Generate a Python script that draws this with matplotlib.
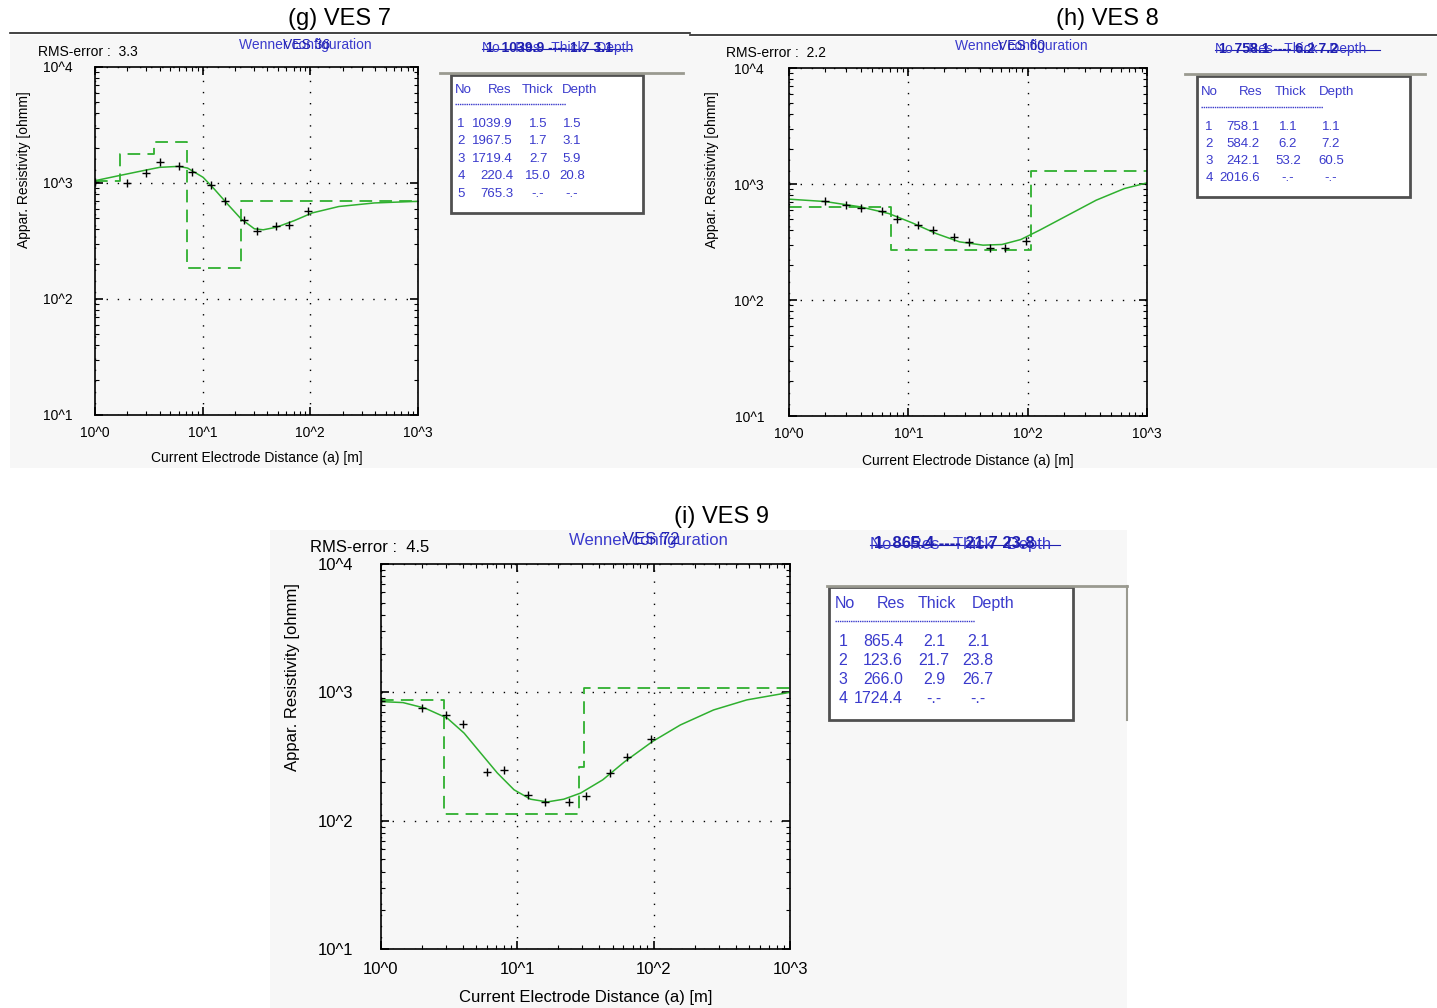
import matplotlib
matplotlib.use("Agg")
import matplotlib.pyplot as plt
from matplotlib.lines import Line2D
from matplotlib.patches import Rectangle

plt.rcParams['font.family'] = ['Liberation Sans', 'DejaVu Sans']

W, H = 1437, 1008

# ---- VES 7 (g) ----
g_a = [1, 2, 3, 4, 6, 8, 12, 16, 24, 32, 48, 64, 96]
g_rho = [1014, 993, 1218, 1506, 1411, 1250, 961, 705, 484, 389, 424, 438, 578]
g_fit_a = [1.0, 1.66, 2.79, 3.97, 5.98, 7.24, 10.1, 12.8, 17.0, 22.7, 30.2, 36.5, 48.5, 71.0, 104, 184, 394, 1000]
g_fit_rho = [1047, 1156, 1277, 1364, 1391, 1345, 1119, 888, 659, 491, 403, 395, 416, 474, 552, 627, 673, 695]
g_step_a = [1, 1.69, 3.55, 7.1, 22.7, 1000]
g_step_rho = [1032, 1775, 2264, 186, 705, 705]
g_rms = "3.3"
g_table = [["1", "1039.9", "1.5", "1.5"],
           ["2", "1967.5", "1.7", "3.1"],
           ["3", "1719.4", "2.7", "5.9"],
           ["4", "220.4", "15.0", "20.8"],
           ["5", "765.3", "-.-", "-.-"]]

# ---- VES 8 (h) ----
h_a = [2, 3, 4, 6, 8, 12, 16, 24, 32, 48, 64, 96]
h_rho = [711, 656, 627, 583, 504, 447, 405, 350, 317, 282, 283, 321]
h_fit_a = [1, 2.01, 3.98, 6.87, 10.8, 17.1, 26.9, 42.3, 60.9, 87.5, 126, 217, 375, 647, 1000]
h_fit_rho = [740, 706, 635, 556, 462, 374, 317, 297, 301, 332, 400, 538, 725, 914, 1023]
h_step_a = [1, 7.19, 107, 1000]
h_step_rho = [635, 269, 1306, 1306]
h_rms = "2.2"
h_table = [["1", "758.1", "1.1", "1.1"],
           ["2", "584.2", "6.2", "7.2"],
           ["3", "242.1", "53.2", "60.5"],
           ["4", "2016.6", "-.-", "-.-"]]

# ---- VES 9 (i) ----
i_a = [1, 2, 3, 4, 6, 8, 12, 16, 24, 32, 48, 64, 96]
i_rho = [857, 760, 667, 568, 240, 246, 159, 140, 140, 156, 234, 311, 436]
i_fit_a = [1, 1.45, 2.11, 3.07, 4.07, 5.39, 7.14, 9.46, 12.5, 16.6, 21.9, 29.1, 42.3, 61.5, 98.1, 157, 275, 482, 1000]
i_fit_rho = [847, 832, 752, 628, 481, 336, 235, 174, 147, 140, 147, 164, 208, 289, 414, 557, 729, 873, 1000]
i_step_a = [1, 2.91, 28.3, 31.0, 1000]
i_step_rho = [873, 113, 264, 1077, 1077]
i_rms = "4.5"
i_table = [["1", "865.4", "2.1", "2.1"],
           ["2", "123.6", "21.7", "23.8"],
           ["3", "266.0", "2.9", "26.7"],
           ["4", "1724.4", "-.-", "-.-"]]

xticks = [1, 10, 100, 1000]
xtick_labels = ["10^0", "10^1", "10^2", "10^3"]
yticks = [10, 100, 1000, 10000]
ytick_labels = ["10^1", "10^2", "10^3", "10^4"]
table_head = ["No", "Res", "Thick", "Depth"]

GREEN = "#2fb02f"
BLUE = "#3a3acc"
BG = "#f7f7f7"

fig = plt.figure(figsize=(W / 100, H / 100), dpi=100)


def rect(x0, y0, x1, y1):
    return [x0 / W, 1 - y1 / H, (x1 - x0) / W, (y1 - y0) / H]


def ftext(x, y, s, **kw):
    fig.text(x / W, 1 - y / H, s, **kw)


def fline(x0, y0, x1, y1, **kw):
    fig.add_artist(Line2D([x0 / W, x1 / W], [1 - y0 / H, 1 - y1 / H], **kw))


def panel(p, a, rho, fit_a, fit_rho, step_a, step_rho, rms, table):
    fs = p["fs"]
    # light grey window background
    fig.add_artist(Rectangle((p["bg"][0] / W, 1 - p["bg"][3] / H),
                             (p["bg"][2] - p["bg"][0]) / W, (p["bg"][3] - p["bg"][1]) / H,
                             facecolor=BG, edgecolor="none", zorder=0))
    ftext(p["title"][0], p["title"][1], p["title"][2], fontsize=p["tfs"],
          ha="center", va="center")
    if "bar" in p:
        x0, x1, y = p["bar"]
        fline(x0, y, x1, y, color="#222222", lw=1.2)

    ax = fig.add_axes(rect(*p["ax"]))
    ax.set_facecolor(BG)
    ax.set_xscale("log")
    ax.set_yscale("log")
    ax.set_xlim(1, 1000)
    ax.set_ylim(10, 10000)
    ax.grid(True, which="major", color="k", linestyle=(0, (1, 7)), lw=1.0)
    ax.step(step_a, step_rho, where="post", color=GREEN, lw=1.3,
            linestyle=(0, (7, 4)))
    ax.plot(fit_a, fit_rho, color=GREEN, lw=1.1)
    ax.plot(a, rho, "k+", ms=6, mew=1.0)
    ax.set_xticks(xticks, labels=xtick_labels)
    ax.set_yticks(yticks, labels=ytick_labels)
    ax.tick_params(which="both", direction="in", top=True, right=True)
    ax.tick_params(which="major", length=6, width=1.2)
    ax.tick_params(which="minor", length=3, width=0.8)
    ax.tick_params(axis="x", labelsize=fs, pad=p["xpad"])
    ax.tick_params(axis="y", labelsize=fs, pad=p["ypad"])
    for s in ax.spines.values():
        s.set_linewidth(1.2)
    ax.set_xlabel("Current Electrode Distance (a) [m]", fontsize=fs, labelpad=p["xlp"])
    ftext(p["ylab"][0], p["ylab"][1], "Appar. Resistivity [ohmm]", fontsize=fs,
          rotation=90, ha="center", va="center")

    ftext(p["rms"][0], p["rms"][1], "RMS-error :  " + rms, fontsize=fs,
          ha="left", va="center")
    # overlapping window captions (as in the screenshot)
    ftext(p["wen"][0], p["wen"][1], "Wenner configuration", fontsize=fs,
          color=BLUE, ha="center", va="center")
    ftext(p["ves"][0], p["ves"][1], p["ves"][2], fontsize=fs, color="#2020b0",
          ha="left", va="center")
    hx, hy = p["hdr"]
    ftext(hx, hy, "No    Res   Thick   Depth", fontsize=fs, color=BLUE,
          ha="left", va="center")
    ftext(hx + 4, hy, "1  " + table[0][1] + " ---- " + table[1][2] + " " + table[1][3],
          fontsize=fs, color="#2020b0", ha="left", va="center", fontweight="bold")
    fline(hx, hy + 1, hx + p["hw"], hy + 1, color="#2020b0", lw=0.8)

    # layer table
    bx0, by0, bx1, by1 = p["box"]
    gx0, gx1, gy = p["gline"]
    fline(gx0, gy, gx1, gy, color="#9a9a90", lw=2.0)
    fig.add_artist(Rectangle((bx0 / W, 1 - by1 / H), (bx1 - bx0) / W, (by1 - by0) / H,
                             facecolor="white", edgecolor="#505050", lw=2.0, zorder=1))
    if "vline" in p:
        vx, vy0, vy1 = p["vline"]
        fline(vx, vy0, vx, vy1, color="#9a9a90", lw=1.5)
    tfs = p["tbfs"]
    cols = p["cols"]
    hc = p["hcols"]
    ty = p["trow"]
    off = tfs * 0.5   # baseline sits about half a cap below the row centre
    ftext(hc[0], ty[0] + off, table_head[0], fontsize=tfs, color=BLUE,
          ha="left", va="baseline")
    for k in range(1, 4):
        ftext(hc[k], ty[0] + off, table_head[k], fontsize=tfs, color=BLUE,
              ha="center", va="baseline")
    fline(hc[0], ty[1], p["dashend"], ty[1], color=BLUE, lw=1.0,
          linestyle=(0, (1, 0.6)))
    for k, row in enumerate(table):
        y = ty[2] + k * p["rstep"] + off
        ftext(cols[0], y, row[0], fontsize=tfs, color=BLUE, ha="center", va="baseline")
        ftext(cols[1], y, row[1], fontsize=tfs, color=BLUE, ha="right", va="baseline")
        ftext(cols[2], y, row[2], fontsize=tfs, color=BLUE, ha="center", va="baseline")
        ftext(cols[3], y, row[3], fontsize=tfs, color=BLUE, ha="center", va="baseline")
    return ax


pg = dict(fs=10, tfs=17, bg=(10, 35, 690, 468), title=(340, 19, "(g) VES 7"),
          bar=(10, 690, 33), ax=(95, 67, 418, 415), xpad=8, ypad=16, xlp=8,
          ylab=(24, 170), rms=(38, 52), wen=(305, 45), ves=(283, 45, "VES 36"),
          hdr=(482, 48), hw=150, box=(451, 75, 643, 213), gline=(440, 683, 73),
          tbfs=9.5, cols=(461, 513, 538, 572), hcols=(455, 500, 538, 580),
          trow=(88, 104, 122), rstep=17.5, dashend=566)
ph = dict(fs=10, tfs=17, bg=(690, 37, 1437, 468), title=(1107, 19, "(h) VES 8"),
          bar=(690, 1437, 35), ax=(789, 68, 1147, 416), xpad=8, ypad=18, xlp=9,
          ylab=(712, 170), rms=(726, 53), wen=(1021, 46), ves=(998, 46, "VES 60"),
          hdr=(1215, 49), hw=165, box=(1197, 76, 1410, 197), gline=(1185, 1425, 74),
          tbfs=9.5, cols=(1209, 1260, 1288, 1331), hcols=(1201, 1251, 1291, 1337),
          trow=(90, 107, 125), rstep=17, dashend=1323)
pi = dict(fs=12, tfs=17, bg=(270, 530, 1127, 1008), title=(722, 517, "(i) VES 9"),
          ax=(381, 564, 790, 949), xpad=9, ypad=20, xlp=10,
          ylab=(293, 677), rms=(310, 548), wen=(648, 540), ves=(623, 540, "VES 72"),
          hdr=(870, 544), hw=190, box=(829, 587, 1073, 720), gline=(827, 1127, 586),
          vline=(1127, 586, 720),
          tbfs=11.5, cols=(843, 903, 934, 978), hcols=(835, 891, 937, 993),
          trow=(602, 621, 640), rstep=19, dashend=975)

panel(pg, g_a, g_rho, g_fit_a, g_fit_rho, g_step_a, g_step_rho, g_rms, g_table)
panel(ph, h_a, h_rho, h_fit_a, h_fit_rho, h_step_a, h_step_rho, h_rms, h_table)
panel(pi, i_a, i_rho, i_fit_a, i_fit_rho, i_step_a, i_step_rho, i_rms, i_table)

fig.savefig("out.png", dpi=100)
